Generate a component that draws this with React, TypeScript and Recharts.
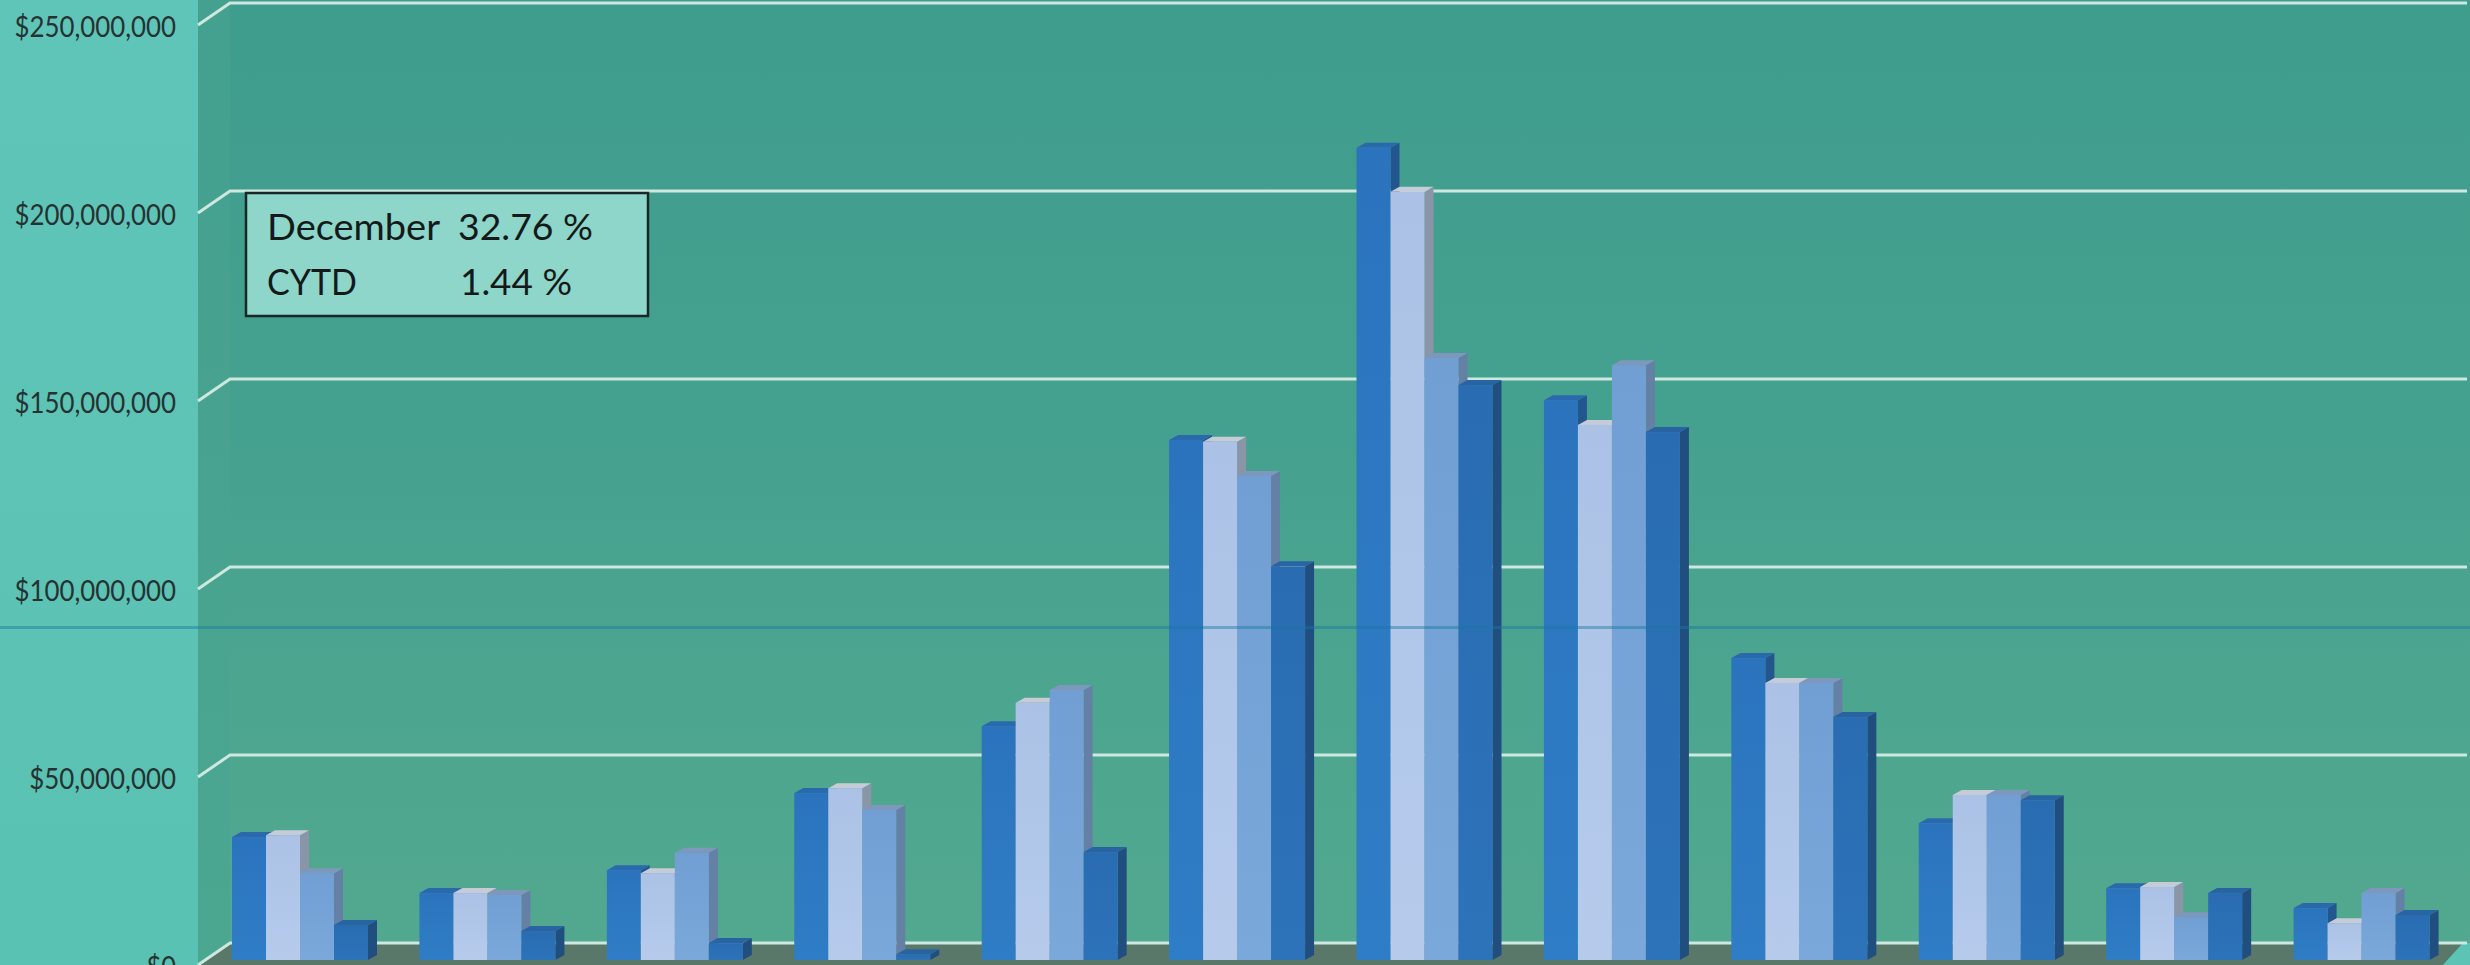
import React from 'react';
import { BarChart, Bar, XAxis, YAxis, CartesianGrid } from 'recharts';

// Monthly dollar totals, four series per month
const months = [
  'January', 'February', 'March', 'April', 'May', 'June',
  'July', 'August', 'September', 'October', 'November', 'December',
];
const seriesA = [32700000, 17800000, 23900000, 44400000, 62200000, 138300000, 216000000, 148900000, 80300000, 36400000, 19100000, 13800000];
const seriesB = [33200000, 17800000, 23100000, 45700000, 68400000, 137800000, 204300000, 142300000, 73700000, 43900000, 19400000, 9800000];
const seriesC = [23100000, 17300000, 28500000, 39900000, 71800000, 128700000, 160100000, 158200000, 73700000, 43900000, 11400000, 17800000];
const seriesD = [9300000, 7700000, 4500000, 1500000, 28700000, 104700000, 152900000, 140400000, 64600000, 42500000, 17800000, 12000000];

const yTicks = [0, 50000000, 100000000, 150000000, 200000000, 250000000];
const yTickLabels = ['$0', '$50,000,000', '$100,000,000', '$150,000,000', '$200,000,000', '$250,000,000'];

const noteLabels = ['December', 'CYTD'];
const noteValues = ['32.76 %', '1.44 %'];

const data = months.map((month, i) => ({
  month,
  a: seriesA[i],
  b: seriesB[i],
  c: seriesC[i],
  d: seriesD[i],
}));

// Canvas and 3D geometry
const W = 2470;
const H = 965;
const TOP = 20;
const BOTTOM = 5;
const AXIS_W = 206;
const RIGHT = 15;
const DEPTH_X = 9;
const DEPTH_Y = 5;
const WALL_SHIFT = 17;

const FONT = "Lato, 'Open Sans', 'Noto Sans', sans-serif";

type Palette = { id: string; front: string; frontTop: string; top: string; side: string };

const palettes: Palette[] = [
  { id: 'sa', front: '#2f7dc6', frontTop: '#2b74bd', top: '#2a6aac', side: '#22568c' },
  { id: 'sb', front: '#b6cbec', frontTop: '#abc2e6', top: '#c5ccd7', side: '#8a96a8' },
  { id: 'sc', front: '#7ba8db', frontTop: '#729fd3', top: '#7e98bd', side: '#6480a4' },
  { id: 'sd', front: '#2d73ba', frontTop: '#296cb1', top: '#2863a2', side: '#204e7f' },
];

// Calibri-like advance widths for the axis labels
const labelWidth = (s: string, size: number) => {
  let em = 0;
  for (const ch of s) em += ch === ',' ? 0.25 : 0.507;
  return em * size;
};

const makeShape = (p: Palette) => (props: any) => {
  const { x, y, width, height, index } = props;
  if (x == null || y == null || !width || height == null || height <= 0) return <g />;
  const gid = `${p.id}-${index}`;
  const r = x + width;
  return (
    <g>
      <defs>
        <linearGradient id={gid} x1="0" y1="0" x2="0" y2="1">
          <stop offset="0" stopColor={p.frontTop} />
          <stop offset="1" stopColor={p.front} />
        </linearGradient>
      </defs>
      <polygon
        points={`${r},${y} ${r + DEPTH_X},${y - DEPTH_Y} ${r + DEPTH_X},${y + height - DEPTH_Y} ${r},${y + height}`}
        fill={p.side}
      />
      <polygon
        points={`${x},${y} ${x + DEPTH_X},${y - DEPTH_Y} ${r + DEPTH_X},${y - DEPTH_Y} ${r},${y}`}
        fill={p.top}
      />
      <rect x={x} y={y} width={width} height={height} fill={`url(#${gid})`} />
    </g>
  );
};

// Gridlines run from the side wall diagonally onto the back wall
const gridLine = (props: any) => {
  const { x1, x2, y1, index } = props;
  const front = y1 + 5;
  const back = y1 - WALL_SHIFT;
  const left = x1 - 8;
  const wallX = x1 + 24;
  const isFloor = Math.abs(y1 - (H - BOTTOM)) < 1;
  return (
    <g key={`grid-${index}`}>
      {isFloor && (
        <>
          <polygon
            points={`${left},${front} ${wallX},${back} ${x2 + 8},${back} ${x2 - 12},${front}`}
            fill="#5a786a"
          />
          <polygon
            points={`${x2 - 12},${front} ${x2 + 8},${back} ${W},${back} ${W},${front}`}
            fill="#5dc3b5"
          />
        </>
      )}
      <polyline
        points={`${left},${front} ${wallX},${back} ${x2 + 12},${back}`}
        fill="none"
        stroke="#cde8df"
        strokeWidth={3}
      />
    </g>
  );
};

const YTick = (props: any) => {
  const { y, payload } = props;
  const i = yTicks.indexOf(payload.value);
  const label = i >= 0 ? yTickLabels[i] : '';
  return (
    <text
      x={176}
      y={y + 6}
      textAnchor="end"
      dominantBaseline="central"
      fontFamily={FONT}
      fontSize={28}
      fill="#263232"
      textLength={labelWidth(label, 29)}
      lengthAdjust="spacingAndGlyphs"
    >
      {label}
    </text>
  );
};

export default function App() {
  const noteLabelWidths = [173, 90];
  const noteValueWidths = [135, 112];
  const noteValueX = [458, 460];
  const noteBaselines = [240, 295];
  return (
    <div
      style={{
        position: 'absolute',
        left: 0,
        top: 0,
        width: W,
        height: H,
        overflow: 'hidden',
        background: 'linear-gradient(#60c5b9, #5ac2b2)',
      }}
    >
      {/* left side wall */}
      <div style={{ position: 'absolute', left: 198, top: 0, width: 32, height: H, background: 'linear-gradient(#44a08f, #4ba790)' }} />
      {/* back wall */}
      <div style={{ position: 'absolute', left: 230, top: 0, width: W - 230, height: H, background: 'linear-gradient(#3f9d8e, #45a18f 45%, #53a98f)' }} />
      <div style={{ position: 'absolute', left: 0, top: 0 }}>
        <BarChart
          width={W}
          height={H}
          data={data}
          margin={{ top: TOP, right: RIGHT, bottom: BOTTOM, left: 0 }}
          barSize={34}
          barGap={0}
        >
          <CartesianGrid vertical={false} horizontal={gridLine} />
          <XAxis dataKey="month" hide />
          <YAxis
            width={AXIS_W}
            domain={[0, 250000000]}
            ticks={yTicks}
            interval={0}
            axisLine={false}
            tickLine={false}
            tick={YTick}
          />
          <Bar dataKey="a" isAnimationActive={false} shape={makeShape(palettes[0])} />
          <Bar dataKey="b" isAnimationActive={false} shape={makeShape(palettes[1])} />
          <Bar dataKey="c" isAnimationActive={false} shape={makeShape(palettes[2])} />
          <Bar dataKey="d" isAnimationActive={false} shape={makeShape(palettes[3])} />
        </BarChart>
      </div>
      <svg
        width={W}
        height={H}
        style={{ position: 'absolute', left: 0, top: 0, pointerEvents: 'none' }}
      >
        <rect x={0} y={626} width={W} height={3} fill="rgba(25,120,160,0.45)" />
        <rect x={246} y={193} width={402} height={123} fill="#8dd6c9" stroke="#1b2626" strokeWidth={2.5} />
        {noteLabels.map((t, i) => (
          <text
            key={`l-${t}`}
            x={267}
            y={noteBaselines[i]}
            fontFamily={FONT}
            fontSize={37}
            fill="#141a1a"
            textLength={noteLabelWidths[i]}
            lengthAdjust="spacingAndGlyphs"
          >
            {t}
          </text>
        ))}
        {noteValues.map((t, i) => (
          <text
            key={`v-${t}`}
            x={noteValueX[i]}
            y={noteBaselines[i]}
            fontFamily={FONT}
            fontSize={37}
            fill="#141a1a"
            textLength={noteValueWidths[i]}
            lengthAdjust="spacingAndGlyphs"
          >
            {t}
          </text>
        ))}
      </svg>
    </div>
  );
}
